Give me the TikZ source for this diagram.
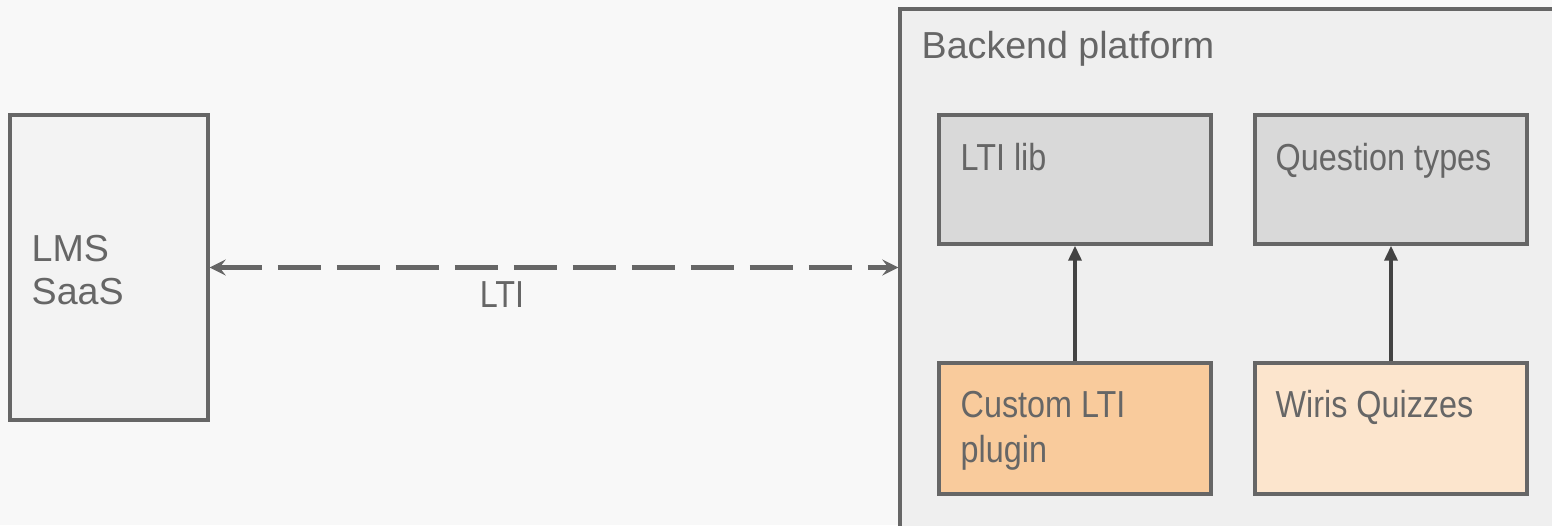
\documentclass[tikz,border=0pt]{standalone}
\usepackage{fontspec}
\setmainfont{Liberation Sans}
\newfontfamily\narrowfont[FakeStretch=0.86]{Liberation Sans}
\usepackage{xcolor}
\usepackage{tikz}
\usetikzlibrary{positioning,arrows.meta}

\definecolor{paper}{HTML}{F8F8F8}
\definecolor{edge}{HTML}{666666}
\definecolor{ink}{HTML}{666666}
\definecolor{darkline}{HTML}{434343}
\definecolor{platformfill}{HTML}{EFEFEF}
\definecolor{lmsfill}{HTML}{F3F3F3}
\definecolor{libfill}{HTML}{D9D9D9}
\definecolor{pluginfill}{HTML}{F9CB9C}
\definecolor{quizfill}{HTML}{FCE5CD}

\begin{document}
\begin{tikzpicture}[
    box/.style={draw=edge, line width=0.34mm, inner sep=0pt},
    txt/.style={text=ink, inner sep=0pt, anchor=base west, align=left, font=\fontsize{10.7}{12.8}\selectfont},
    narrowtxt/.style={txt, font=\fontsize{10.7}{12.8}\selectfont\narrowfont},
    uses/.style={-{Triangle[length=1.5mm, width=1.3mm]}, draw=darkline, line width=0.35mm},
    ltilink/.style={{Stealth[length=1.6mm, width=1.6mm, inset=0.6mm]}-{Stealth[length=1.6mm, width=1.6mm, inset=0.6mm]},
        draw=edge, line width=0.45mm, dash pattern=on 4.3mm off 1.6mm}
]
    \useasboundingbox (0,0) rectangle (15.52,-5.25);
    \clip (0,0) rectangle (15.52,-5.25);
    \fill[paper] (0,0) rectangle (15.52,-5.25);

    % LMS (base anchor sits on the last line)
    \node[box, fill=lmsfill, minimum width=1.98cm, minimum height=3.05cm] (lms) at (1.09,-2.675) {};
    \node[txt, font=\fontsize{10.7}{12.2}\selectfont] (lmstext) at (0.31,-3.04) {LMS\\SaaS};

    % Backend platform
    \node[box, fill=platformfill, minimum width=6.62cm, minimum height=5.26cm] (backend) at (12.31,-2.72) {};
    \node[txt] (backendtext) at (9.21,-0.58) {Backend platform};

    % top row
    \node[box, fill=libfill, minimum width=2.72cm, minimum height=1.29cm] (ltilib) at (10.75,-1.795) {};
    \node[box, fill=libfill, minimum width=2.72cm, minimum height=1.29cm] (qtypes) at (13.91,-1.795) {};
    \node[narrowtxt] (ltilibtext) at (9.60,-1.70) {LTI lib};
    \node[narrowtxt] (qtypestext) at (12.75,-1.70) {Question types};

    % bottom row
    \node[box, fill=pluginfill, minimum width=2.72cm, minimum height=1.31cm] (plugin) at (10.75,-4.285) {};
    \node[box, fill=quizfill, minimum width=2.72cm, minimum height=1.31cm] (quizzes) at (13.91,-4.285) {};
    \node[narrowtxt] (plugintext) at (9.60,-4.62) {Custom LTI\\plugin};
    \node[narrowtxt] (quizzestext) at (12.75,-4.17) {Wiris Quizzes};

    % connectors
    \draw[uses] (plugin) -- (ltilib);
    \draw[uses] (quizzes) -- (qtypes);
    \draw[ltilink] (lms.east) -- (lms.east -| backend.west);
    \node[narrowtxt, anchor=base] (ltitext) at (5.02,-3.07) {LTI};
\end{tikzpicture}
\end{document}
